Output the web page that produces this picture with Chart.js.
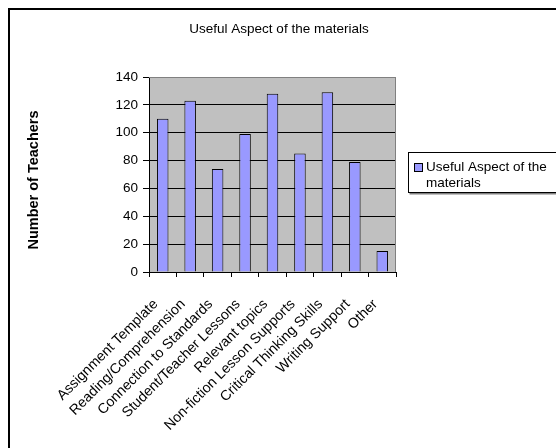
<!DOCTYPE html>
<html>
<head>
<meta charset="utf-8">
<script src="https://cdn.jsdelivr.net/npm/chart.js@4"></script>
<style>
  html, body { margin: 0; padding: 0; background: #fff; }
  #wrap { width: 556px; height: 448px; }
</style>
</head>
<body>
<div id="wrap"><canvas id="c" width="556" height="448"></canvas></div>
<script>
const chartTitle = "Useful Aspect of the materials";
const seriesName = "Useful Aspect of the materials";
const legendLines = ["Useful Aspect of the", "materials"];
const yAxisTitle = "Number of Teachers";
const categories = [
  "Assignment Template",
  "Reading/Comprehension",
  "Connection to Standards",
  "Student/Teacher Lessons",
  "Relevant topics",
  "Non-fiction Lesson Supports",
  "Critical Thinking Skills",
  "Writing Support",
  "Other"
];
const values = [110, 123, 74, 99, 128, 85, 129, 79, 15];
const yTicks = [0, 20, 40, 60, 80, 100, 120, 140];

const FONT = "'Liberation Sans', Arial, sans-serif";

const decor = {
  id: 'decor',
  beforeDraw(chart) {
    const { ctx, chartArea: a } = chart;
    ctx.save();
    ctx.fillStyle = '#fff';
    ctx.fillRect(0, 0, chart.width, chart.height);
    // outer frame (top & left visible)
    ctx.strokeStyle = '#000';
    ctx.lineWidth = 2;
    ctx.strokeRect(9, 9, 700, 600);
    // plot background
    ctx.fillStyle = '#C0C0C0';
    ctx.fillRect(a.left, a.top, a.right - a.left, a.bottom - a.top);
    ctx.restore();
  },
  afterDraw(chart) {
    const { ctx, chartArea: a } = chart;
    ctx.save();
    // plot border top/right gray
    ctx.strokeStyle = '#808080';
    ctx.lineWidth = 1;
    ctx.beginPath();
    ctx.moveTo(a.left, a.top + 0.5);
    ctx.lineTo(a.right - 0.5, a.top + 0.5);
    ctx.lineTo(a.right - 0.5, a.bottom);
    ctx.stroke();
    // title
    ctx.fillStyle = '#000';
    ctx.font = '13.5px ' + FONT;
    ctx.textAlign = 'center';
    ctx.textBaseline = 'alphabetic';
    ctx.fillText(chartTitle, 279, 33);
    // y axis title
    ctx.save();
    ctx.translate(38, 180);
    ctx.rotate(-Math.PI / 2);
    ctx.font = 'bold 14.5px ' + FONT;
    ctx.textAlign = 'center';
    ctx.textBaseline = 'alphabetic';
    ctx.fillText(yAxisTitle, 0, 0);
    ctx.restore();
    // legend box with shadow
    const lx = 408.5, ly = 152.5, lw = 200, lh = 40;
    ctx.fillStyle = '#808080';
    ctx.fillRect(lx + 1, ly + 1, lw, lh + 1);
    ctx.fillStyle = '#fff';
    ctx.fillRect(lx, ly, lw, lh);
    ctx.strokeStyle = '#000';
    ctx.strokeRect(lx, ly, lw, lh);
    const ds = chart.data.datasets[0];
    ctx.fillStyle = ds.backgroundColor;
    ctx.fillRect(414.5, 163.5, 8, 8);
    ctx.strokeRect(414.5, 163.5, 8, 8);
    ctx.fillStyle = '#000';
    ctx.font = '13.5px ' + FONT;
    ctx.textAlign = 'left';
    ctx.fillText(legendLines[0], 426, 170.5);
    ctx.fillText(legendLines[1], 426, 186.5);
    ctx.restore();
  }
};

new Chart(document.getElementById('c'), {
  type: 'bar',
  data: {
    labels: categories,
    datasets: [{
      label: seriesName,
      data: values,
      backgroundColor: '#9999FF',
      borderColor: '#000000',
      borderWidth: 1,
      borderSkipped: 'bottom',
      barPercentage: 0.42,
      categoryPercentage: 1.0
    }]
  },
  options: {
    responsive: false,
    animation: false,
    layout: { padding: { left: 20, top: 77, right: 160, bottom: 0 } },
    plugins: {
      legend: { display: false },
      title: { display: false },
      tooltip: { enabled: false }
    },
    scales: {
      x: {
        offset: true,
        grid: {
          offset: true,
          drawOnChartArea: false,
          drawTicks: true,
          tickLength: 5,
          color: '#000'
        },
        border: { color: '#000', width: 1 },
        ticks: {
          color: '#000',
          font: { family: FONT, size: 14.2 },
          maxRotation: 45,
          minRotation: 45,
          autoSkip: false,
          padding: 19,
          labelOffset: -7
        },
        afterFit(scale) { scale.height = 176; }
      },
      y: {
        min: 0,
        max: 140,
        afterBuildTicks(scale) { scale.ticks = yTicks.map(v => ({ value: v })); },
        grid: {
          color: (c) => (c.tick && c.tick.value === 140) ? '#808080' : '#000',
          tickColor: '#000',
          tickLength: 6,
          drawTicks: true
        },
        border: { color: '#000', width: 1 },
        ticks: {
          color: '#000',
          font: { family: FONT, size: 13.5 },
          padding: 5
        },
        title: { display: false },
        afterFit(scale) { scale.width = 129; }
      }
    }
  },
  plugins: [decor]
});
</script>
</body>
</html>
